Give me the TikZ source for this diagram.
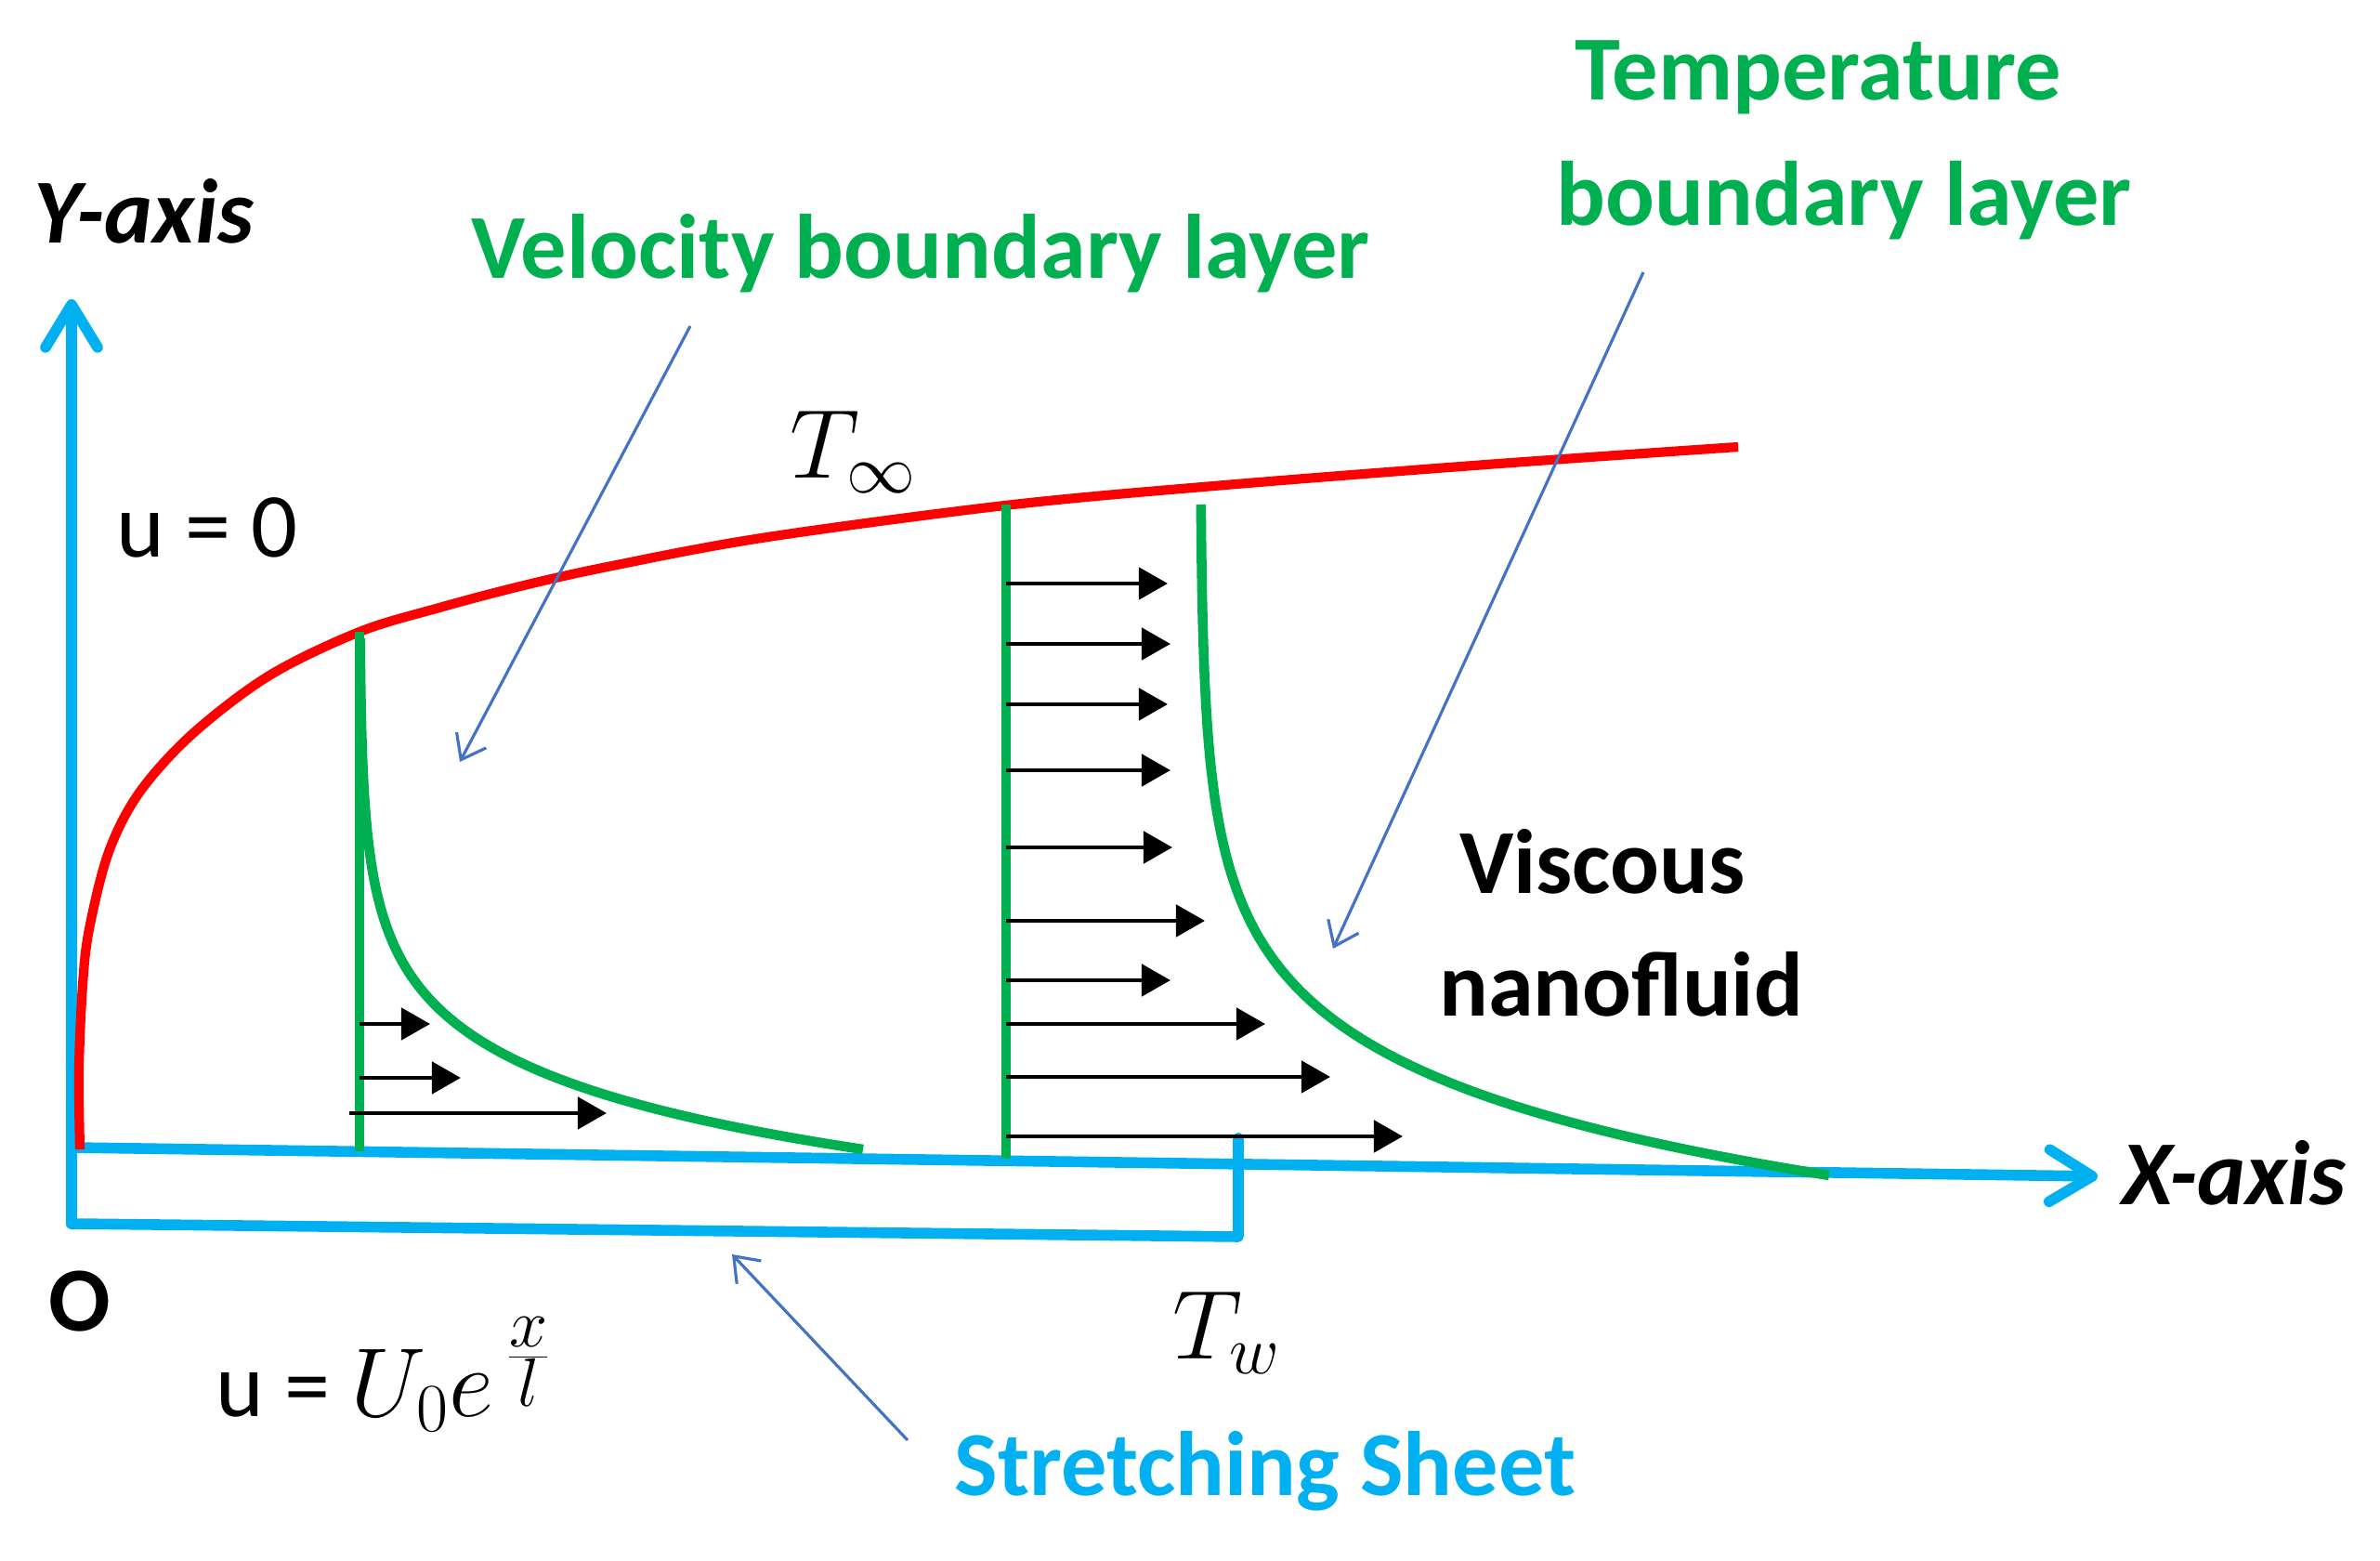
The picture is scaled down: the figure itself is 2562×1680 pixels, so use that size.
\RequirePackage{fix-cm}
\documentclass[tikz,border=0pt]{standalone}
\usepackage{fontspec}
\setmainfont{Carlito}
\usetikzlibrary{arrows.meta}

\definecolor{sheetblue}{RGB}{0,176,240}
\definecolor{layergreen}{RGB}{0,176,80}
\definecolor{pointerblue}{RGB}{68,114,196}

\tikzset{
	axis/.style={sheetblue, line width=3.3pt, line join=round, line cap=round},
	axistip/.style={-{Straight Barb[length=4.6mm, width=5.6mm, line cap=round, line join=round]}},
	wall/.style={red, line width=2.9pt},
	layer/.style={layergreen, line width=3pt},
	flow/.style={black, line width=1.4pt, -{Triangle[length=3.1mm, width=3.4mm]}},
	pointer/.style={pointerblue, line width=0.9pt, -{Straight Barb[length=2.4mm, width=3.6mm]}},
	txt/.style={inner sep=0pt, anchor=base, font=\fontsize{28}{34}\selectfont},
	boldtxt/.style={txt, font=\fontsize{28}{34}\selectfont\bfseries},
	title/.style={boldtxt, text=layergreen},
	axisname/.style={txt, font=\fontsize{28}{34}\selectfont\bfseries\itshape},
	mathtxt/.style={inner sep=0pt, anchor=base west, font=\fontsize{30}{36}\selectfont}
}

\begin{document}
\begin{tikzpicture}[x=0.01cm, y=-0.01cm]
		%%%%% START %%%%%
		\useasboundingbox (0, 0) rectangle (2562, 1680);
		
		\draw[axis, axistip] (77, 1317) -- (77, 322);
		\draw[axis] (77, 1317) -- (1333, 1331) -- (1333, 1225);
		\draw[axis, axistip] (77, 1235) -- (2258, 1266);
		
		\draw[wall] plot[smooth, tension=0.55] coordinates {(86, 1237) (85, 1150) (89, 1060) (96, 1000) (117, 917) (150, 853) (207, 790) (290, 727) (387, 680) (473, 654) (560, 631) (654, 610) (820, 579) (1082, 544) (1307, 523) (1600, 500) (1871, 481)};
		
		\draw[layer] (387, 680) -- (387, 1239);
		\draw[layer] plot[domain=0:550, samples=90, smooth] ({387 + 542*exp(-\x/82)}, {1237 - \x});
		
		\draw[layer] (1083, 543) -- (1083, 1247);
		\draw[layer] plot[domain=0:722, samples=100, smooth] ({1292 + 677*exp(-\x/108)}, {1265 - \x});
		
		\draw[flow] (387, 1102) -- (463, 1102);
		\draw[flow] (387, 1160) -- (496, 1160);
		\draw[flow] (376, 1198) -- (653, 1198);
		
		\draw[flow] (1083, 628) -- (1257, 628);
		\draw[flow] (1083, 693) -- (1260, 693);
		\draw[flow] (1083, 758) -- (1257, 758);
		\draw[flow] (1083, 829) -- (1260, 829);
		\draw[flow] (1083, 912) -- (1262, 912);
		\draw[flow] (1083, 991) -- (1297, 991);
		\draw[flow] (1083, 1055) -- (1260, 1055);
		\draw[flow] (1083, 1102) -- (1362, 1102);
		\draw[flow] (1083, 1159) -- (1432, 1159);
		\draw[flow] (1083, 1223) -- (1510, 1223);
		
		\node[title] (tempTop) at (1957, 108) {Temperature};
		\node[title] (tempBot) at (1985, 243) {boundary layer};
		\node[title] (velo) at (991, 300) {Velocity boundary layer};
		\node[axisname] (yname) at (155, 262) {Y-axis};
		\node[axisname] (xname) at (2405, 1297) {X-axis};
		\node[txt] (wallspeed) at (223, 600) {u = 0};
		\node[mathtxt] (tinf) at (850, 515) {$T_\infty$};
		\node[boldtxt] (visc) at (1725, 962) {Viscous};
		\node[boldtxt] (nano) at (1745, 1094) {nanofluid};
		\node[boldtxt] (origin) at (86, 1433) {O};
		\node[txt, anchor=base west] (sheetspeed) at (232, 1525) {u = {\fontsize{30}{36}\selectfont$U_0e^{\,\frac{\scriptstyle x}{\scriptstyle l}}$}};
		\node[mathtxt] (twall) at (1262, 1463) {$T_w$};
		\node[boldtxt, text=sheetblue] (sheet) at (1362, 1610) {Stretching Sheet};
		
		\coordinate (veloTail) at (743, 351);
		\coordinate (veloHead) at (495, 820);
		\coordinate (tempTail) at (1769, 293);
		\coordinate (tempHead) at (1435, 1021);
		\coordinate (sheetTail) at (977, 1550);
		\coordinate (sheetHead) at (788, 1350);
		\draw[pointer] (veloTail) -- (veloHead);
		\draw[pointer] (tempTail) -- (tempHead);
		\draw[pointer] (sheetTail) -- (sheetHead);
		
		%%%%% END %%%%%
	\end{tikzpicture}
\end{document}
